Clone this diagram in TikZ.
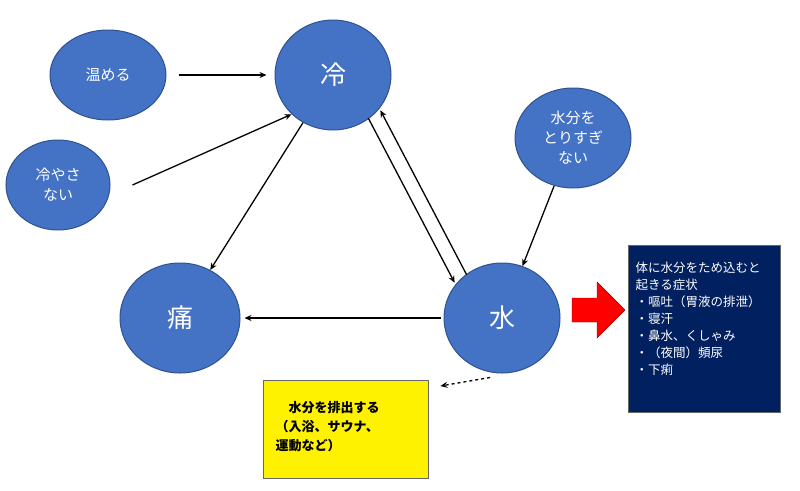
\documentclass[tikz,border=0pt]{standalone}
\usepackage{fontspec}
\setmainfont{Noto Sans CJK JP}
\usetikzlibrary{arrows.meta,shapes.geometric}
\definecolor{ballfill}{RGB}{68,114,196}
\definecolor{balldraw}{RGB}{47,82,143}
\definecolor{navybox}{RGB}{0,32,96}
\tikzset{
  ball/.style={ellipse,draw=balldraw,line width=1pt,fill=ballfill,text=white,align=center},
  link/.style={-{Stealth[length=7pt,width=6pt]},line width=1.3pt,black},
}
\begin{document}
\begin{tikzpicture}[x=1pt,y=-1pt]
\useasboundingbox (0,0) rectangle (800,490);
% circles
\node[ball,minimum width=116pt,minimum height=90pt,font=\fontsize{15}{18}\selectfont] (warm) at (108,75) {温める};
\node[ball,minimum width=116pt,minimum height=110pt,font=\fontsize{26}{30}\selectfont] (cold) at (333,75) {冷};
\node[ball,minimum width=104pt,minimum height=90pt,font=\fontsize{15}{20}\selectfont] (nocool) at (58,185) {冷やさ\\ない};
\node[ball,minimum width=116pt,minimum height=100pt,font=\fontsize{15}{20}\selectfont] (nowater) at (573,138) {水分を\\とりすぎ\\ない};
\node[ball,minimum width=120pt,minimum height=110pt,font=\fontsize{26}{30}\selectfont] (pain) at (180,318) {痛};
\node[ball,minimum width=116pt,minimum height=110pt,font=\fontsize{26}{30}\selectfont] (water) at (502,318) {水};
% boxes
\node[draw=black!60,fill=yellow,minimum width=165pt,minimum height=98pt,anchor=north west,
  inner sep=0pt] (drain) at (263,380) {};
\node[anchor=north west,align=left,font=\bfseries\fontsize{13}{19}\selectfont] at (272,398)
  {\hspace{1em}水分を排出する\\（入浴、サウナ、\\運動など）};
\node[draw=black!60,fill=navybox,minimum width=152pt,minimum height=167pt,anchor=north west,
  inner sep=0pt] (symptom) at (628,245) {};
\node[anchor=north west,align=left,text=white,font=\fontsize{12.5}{17}\selectfont] at (632,258)
  {体に水分をため込むと\\起きる症状\\・嘔吐（胃液の排泄）\\・寝汗\\・鼻水、くしゃみ\\・（夜間）頻尿\\・下痢};
% red arrow
\fill[red,draw=red!60!black] (572,298)--(597,298)--(597,282)--(625,310)--(597,338)--(597,322)--(572,322)--cycle;
% connectors
\draw[link] ([xshift=12pt]warm.east) -- ([xshift=-8pt]cold.west);
\draw[link] ([shift={(22,0)}]nocool.east) -- (cold.south west);
\draw[link] (cold) -- (pain);
\draw[link] ([shift={(-6,4)}]cold.south east) -- ([shift={(-6,4)}]water.north west);
\draw[link] ([shift={(6,-4)}]water.north west) -- ([shift={(6,-4)}]cold.south east);
\draw[link] (nowater) -- (water);
\draw[link] ([xshift=-3pt]water.west) -- ([xshift=4pt]pain.east);
\draw[link,dashed] ([shift={(-12,4)}]water.south) -- ([shift={(12,6)}]drain.north east);
\end{tikzpicture}
\end{document}
